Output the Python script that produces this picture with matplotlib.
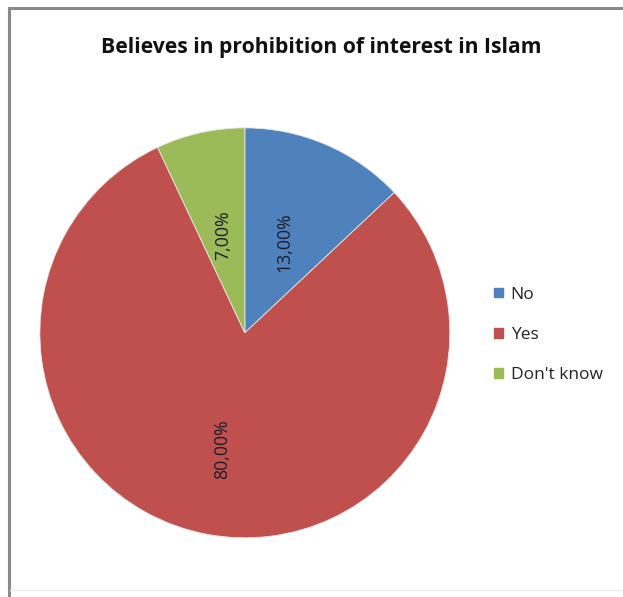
import matplotlib.pyplot as plt
import matplotlib.patches as mpatches
import numpy as np

# Survey answers
answers = ['No', 'Yes', "Don't know"]
shares = [13.0, 80.0, 7.0]
colors = ['#4F81BD', '#C0504D', '#9BBB59']

plt.rcParams['font.family'] = ['Open Sans', 'DejaVu Sans']

fig = plt.figure(figsize=(6.23, 5.97), dpi=100)
fig.patch.set_facecolor('white')

# thin frame around the chart area
fig.add_artist(plt.Line2D([9/623, 9/623], [0, 1 - 8/597], transform=fig.transFigure,
                          color='#8a8a8a', lw=2.2))
fig.add_artist(plt.Line2D([9/623, 1], [1 - 8/597, 1 - 8/597], transform=fig.transFigure,
                          color='#8a8a8a', lw=2.2))
fig.add_artist(plt.Line2D([10/623, 1], [1 - 590/597, 1 - 590/597], transform=fig.transFigure,
                          color='#ececec', lw=1))

fig.text(0.515, 1 - 47/597, 'Believes in prohibition of interest in Islam',
         ha='center', va='center', fontsize=15.2, fontweight='bold', color='#111111')

ax = fig.add_axes([0.064, 0.099, 0.658, 0.687])
wedges, _ = ax.pie(shares, colors=colors, startangle=90, counterclock=False,
                   wedgeprops=dict(linewidth=0.6, edgecolor='#e8e8e8'))
ax.set_xlim(-1, 1)
ax.set_ylim(-1, 1)
ax.set_aspect('equal')
ax.axis('off')

# value labels, rotated like the original
label_r = [0.48, 0.58, 0.49]
for w, val, r in zip(wedges, shares, label_r):
    mid = np.deg2rad((w.theta1 + w.theta2) / 2)
    ax.text(r * np.cos(mid), r * np.sin(mid), ('%.2f%%' % val).replace('.', ','),
            rotation=90, ha='center', va='center', fontsize=12.8, color='#1b1b2a')

handles = [mpatches.Patch(color=c, label=a) for c, a in zip(colors, answers)]
fig.legend(handles=handles, loc='center left', bbox_to_anchor=(0.768, 1 - 335/597),
           frameon=False, fontsize=12.5, handlelength=0.5, handleheight=0.5,
           handletextpad=0.45, labelspacing=1.4, labelcolor='#222222')

plt.savefig('out.png', dpi=100)
